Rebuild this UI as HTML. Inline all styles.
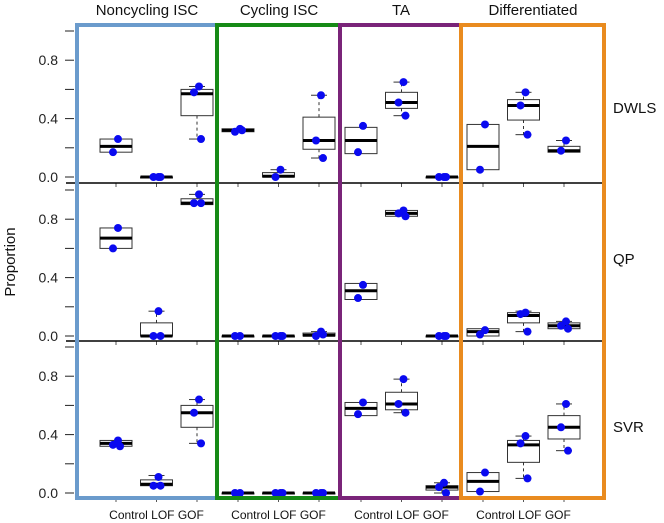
<!DOCTYPE html>
<html><head><meta charset="utf-8"><style>
body{margin:0;background:#fff;}
svg{display:block;font-family:"Liberation Sans",Arial,sans-serif;}
</style></head><body>
<svg id="chart" width="664" height="523" viewBox="0 0 664 523"></svg>
<script>
const cellTypes = ["Noncycling ISC","Cycling ISC","TA","Differentiated"];
const methods = ["DWLS","QP","SVR"];
const groups = ["Control","LOF","GOF"];
const yTicks = [0.0,0.4,0.8];
const yTickLabels = ["0.0","0.4","0.8"];
// each box: [whiskerLow, q1, median, q3, whiskerHigh]
const boxesDWLS = [
 [[0.17,0.17,0.21,0.26,0.26],[0,0,0,0,0],[0.26,0.42,0.57,0.60,0.62]],
 [[0.31,0.31,0.32,0.33,0.33],[0,0,0.005,0.03,0.05],[0.13,0.19,0.25,0.41,0.56]],
 [[0.16,0.16,0.25,0.34,0.34],[0.42,0.47,0.51,0.58,0.65],[0,0,0,0,0]],
 [[0.05,0.05,0.21,0.36,0.36],[0.29,0.39,0.49,0.53,0.58],[0.17,0.17,0.18,0.21,0.25]]
];
const pointsDWLS = [
 [[0.26,0.17],[0,0,0],[0.62,0.58,0.26]],
 [[0.33,0.31,0.32],[0.05,0.0],[0.56,0.25,0.13]],
 [[0.35,0.17],[0.65,0.51,0.42],[0,0,0]],
 [[0.36,0.05],[0.58,0.49,0.29],[0.25,0.18]]
];
const boxesQP = [
 [[0.60,0.60,0.67,0.74,0.74],[0,0,0,0.09,0.17],[0.91,0.90,0.91,0.94,0.97]],
 [[0,0,0,0,0],[0,0,0,0,0],[0,0,0.005,0.02,0.03]],
 [[0.25,0.25,0.31,0.36,0.36],[0.82,0.82,0.84,0.86,0.86],[0,0,0,0,0]],
 [[0.01,0.0,0.03,0.05,0.05],[0.03,0.09,0.14,0.16,0.17],[0.05,0.05,0.07,0.09,0.10]]
];
const pointsQP = [
 [[0.74,0.60],[0.17,0,0],[0.97,0.91,0.91]],
 [[0,0],[0,0,0],[0.03,0,0.01]],
 [[0.35,0.26],[0.86,0.84,0.82],[0,0,0]],
 [[0.04,0.01],[0.16,0.15,0.03],[0.10,0.07,0.05]]
];
const boxesSVR = [
 [[0.32,0.32,0.34,0.36,0.36],[0.05,0.05,0.06,0.09,0.12],[0.34,0.45,0.55,0.60,0.64]],
 [[0,0,0,0,0],[0,0,0,0,0],[0,0,0,0,0]],
 [[0.53,0.53,0.58,0.62,0.62],[0.55,0.57,0.61,0.69,0.78],[0.0,0.02,0.04,0.05,0.07]],
 [[0.01,0.01,0.08,0.14,0.14],[0.10,0.21,0.33,0.36,0.39],[0.29,0.37,0.45,0.53,0.61]]
];
const pointsSVR = [
 [[0.36,0.33,0.32],[0.11,0.05,0.05],[0.64,0.55,0.34]],
 [[0,0],[0,0,0],[0,0,0]],
 [[0.62,0.54],[0.78,0.61,0.55],[0.07,0.04,0.0]],
 [[0.14,0.01],[0.39,0.34,0.10],[0.61,0.45,0.29]]
];
const allBoxes=[boxesDWLS,boxesQP,boxesSVR], allPts=[pointsDWLS,pointsQP,pointsSVR];

const NS="http://www.w3.org/2000/svg", svg=document.getElementById("chart");
function mk(t,a,p){const e=document.createElementNS(NS,t);for(const k in a)e.setAttribute(k,a[k]);(p||svg).appendChild(e);return e;}
const rowZero=[177,336,493], scale=146;
const colX0=[116,238,361,483], dx=40.5, bw=32;
const yS=(r,v)=>rowZero[r]-v*scale;
const xS=(c,g)=>colX0[c]+g*dx;
const jit=[2,-3,4];
const colors=["#6b9bcc","#168a16","#7a2479","#e98b1f"];
const frames=[[77,217],[217,340],[340,461],[461,604]];

// y axes
for(let r=0;r<3;r++){
  const ax=mk("g",{});
  
  
  for(let i=0;i<=5;i++){const v=i*0.2;mk("line",{x1:65,x2:74,y1:yS(r,v),y2:yS(r,v),stroke:"#222","stroke-width":1},ax);}
  yTicks.forEach((v,i)=>{const t=mk("text",{x:58,y:yS(r,v)+5,"text-anchor":"end","font-size":14,fill:"#222"},ax);t.textContent=yTickLabels[i];
    });
  // x ticks
  for(let c=0;c<4;c++)for(let g=0;g<3;g++){const yb=r<2?[183,341][r]:498;mk("line",{x1:xS(c,g),x2:xS(c,g),y1:yb,y2:yb+4,stroke:"#555","stroke-width":1},ax);}
}
// separators
[183,341].forEach(y=>{const l=mk("line",{x1:66,x2:604,y1:y,y2:y,stroke:"#000","stroke-width":1.5});
  });

// boxes and points
for(let r=0;r<3;r++)for(let c=0;c<4;c++)for(let g=0;g<3;g++){
  const b=allBoxes[r][c][g], x=xS(c,g);
  const gr=mk("g",{});
  
  
  if(b[4]>b[3]){mk("line",{x1:x,x2:x,y1:yS(r,b[3]),y2:yS(r,b[4]),stroke:"#333","stroke-dasharray":"3,3"},gr);mk("line",{x1:x-8,x2:x+8,y1:yS(r,b[4]),y2:yS(r,b[4]),stroke:"#333"},gr);}
  if(b[0]<b[1]){mk("line",{x1:x,x2:x,y1:yS(r,b[1]),y2:yS(r,b[0]),stroke:"#333","stroke-dasharray":"3,3"},gr);mk("line",{x1:x-8,x2:x+8,y1:yS(r,b[0]),y2:yS(r,b[0]),stroke:"#333"},gr);}
  mk("rect",{x:x-bw/2,y:yS(r,b[3]),width:bw,height:Math.max(yS(r,b[1])-yS(r,b[3]),1),fill:"#fff",stroke:"#333","stroke-width":1},gr);
  mk("line",{x1:x-bw/2,x2:x+bw/2,y1:yS(r,b[2]),y2:yS(r,b[2]),stroke:"#000","stroke-width":3},gr);
  allPts[r][c][g].forEach((v,i)=>{const p=mk("circle",{cx:x+jit[i%3],cy:yS(r,v),r:4,fill:"#0a0af0"},gr);
    });
}
// frames
frames.forEach((f,i)=>{const rc=mk("rect",{x:f[0],y:25,width:f[1]-f[0],height:473,fill:"none",stroke:colors[i],"stroke-width":4});
  });
// column titles
const titleX=[147,279,401,533];
cellTypes.forEach((n,i)=>{const t=mk("text",{x:titleX[i],y:15,"text-anchor":"middle","font-size":15,fill:"#111"});t.textContent=n;
  });
// row labels
const rowLabelY=[113,264,432];
methods.forEach((m,i)=>{const t=mk("text",{x:613,y:rowLabelY[i],"font-size":15,fill:"#111"});t.textContent=m;
  });
// x labels
for(let c=0;c<4;c++){const t=mk("text",{x:xS(c,1),y:519,"text-anchor":"middle","font-size":12,fill:"#111"});t.textContent=groups.join(" ");
  }
const yt=mk("text",{x:0,y:0,transform:"translate(15,262) rotate(-90)","text-anchor":"middle","font-size":15,fill:"#111"});yt.textContent="Proportion";

</script>
</body></html>
